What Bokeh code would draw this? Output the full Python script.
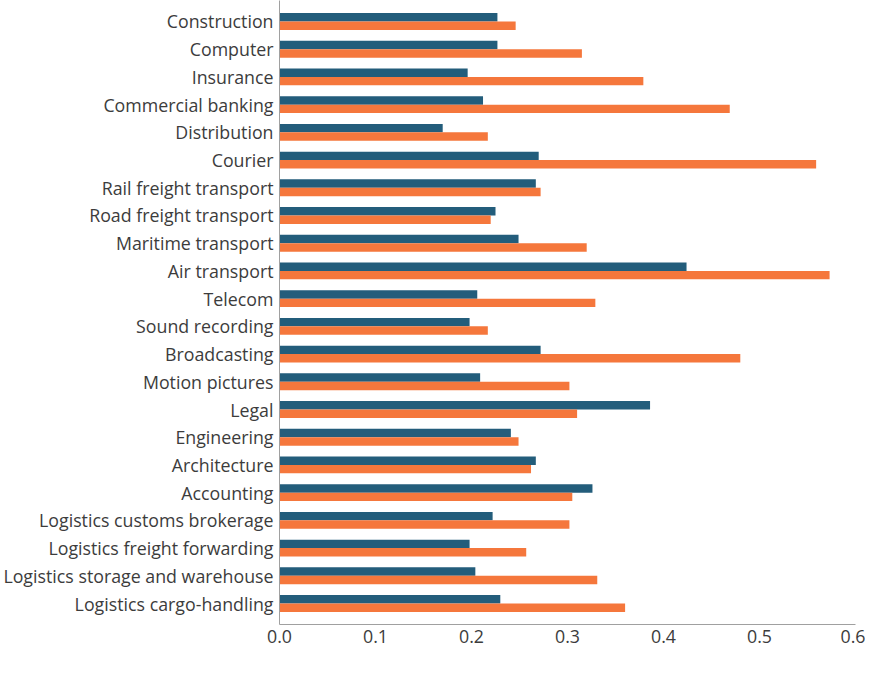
from bokeh.plotting import figure
from bokeh.models import FactorRange, Legend, LegendItem, ColumnDataSource, NumeralTickFormatter
from bokeh.transform import dodge
from bokeh.embed import file_html
from bokeh.resources import INLINE

categories = [
    "Construction", "Computer", "Insurance", "Commercial banking", "Distribution",
    "Courier", "Rail freight transport", "Road freight transport", "Maritime transport",
    "Air transport", "Telecom", "Sound recording", "Broadcasting", "Motion pictures",
    "Legal", "Engineering", "Architecture", "Accounting", "Logistics customs brokerage",
    "Logistics freight forwarding", "Logistics storage and warehouse", "Logistics cargo-handling",
]
average_all = [0.227, 0.227, 0.196, 0.212, 0.170, 0.270, 0.267, 0.225, 0.249, 0.424, 0.206,
               0.198, 0.272, 0.209, 0.386, 0.241, 0.267, 0.326, 0.222, 0.198, 0.204, 0.230]
brazil = [0.246, 0.315, 0.379, 0.469, 0.217, 0.559, 0.272, 0.220, 0.320, 0.573, 0.329,
          0.217, 0.480, 0.302, 0.310, 0.249, 0.262, 0.305, 0.302, 0.257, 0.331, 0.360]
x_ticks = [0.0, 0.1, 0.2, 0.3, 0.4, 0.5, 0.6]
series_names = ["Average of all countries", "Brazil"]

FONT = "Open Sans"
TEXT = "#3c3c3c"
C_AVG = "#235D7B"
C_BR = "#F5773C"
FS = "17.8px"

src = ColumnDataSource(dict(cat=categories, avg=average_all, br=brazil))

p = figure(frame_width=576, frame_height=624, output_backend="svg", toolbar_location=None,
           y_range=FactorRange(factors=list(reversed(categories)), range_padding=0.0234),
           x_range=(0, 0.6),
           min_border_left=277, min_border_right=10, min_border_top=0, min_border_bottom=0)

r1 = p.hbar(y=dodge("cat", 0.152, range=p.y_range), right="avg", left=0, height=0.304,
            source=src, color=C_AVG, line_color=None)
r2 = p.hbar(y=dodge("cat", -0.152, range=p.y_range), right="br", left=0, height=0.304,
            source=src, color=C_BR, line_color=None)

p.outline_line_color = None
p.xgrid.grid_line_color = None
p.ygrid.grid_line_color = None

for ax in (p.xaxis[0], p.yaxis[0]):
    ax.axis_line_color = "#a0a0a0"
    ax.axis_line_width = 1
    ax.major_tick_line_color = None
    ax.minor_tick_line_color = None
    ax.major_tick_out = 0
    ax.major_tick_in = 0
    ax.minor_tick_out = 0
    ax.minor_tick_in = 0
    ax.major_label_text_font = FONT
    ax.major_label_text_color = TEXT
    ax.major_label_text_font_size = FS

p.xaxis.ticker = x_ticks
p.xaxis.formatter = NumeralTickFormatter(format="0.0")
p.xaxis.major_label_standoff = 5
p.yaxis.major_label_standoff = 6

legend = Legend(items=[LegendItem(label=series_names[0], renderers=[r1]),
                       LegendItem(label=series_names[1], renderers=[r2])],
                orientation="horizontal", location="top_center",
                label_text_font=FONT, label_text_color=TEXT, label_text_font_size=FS,
                label_standoff=6, label_height=18,
                glyph_width=18, glyph_height=18, spacing=29, padding=0, margin=0,
                border_line_color=None, background_fill_alpha=0)
p.add_layout(legend, "below")

open("out.html", "w").write(file_html(p, INLINE))
